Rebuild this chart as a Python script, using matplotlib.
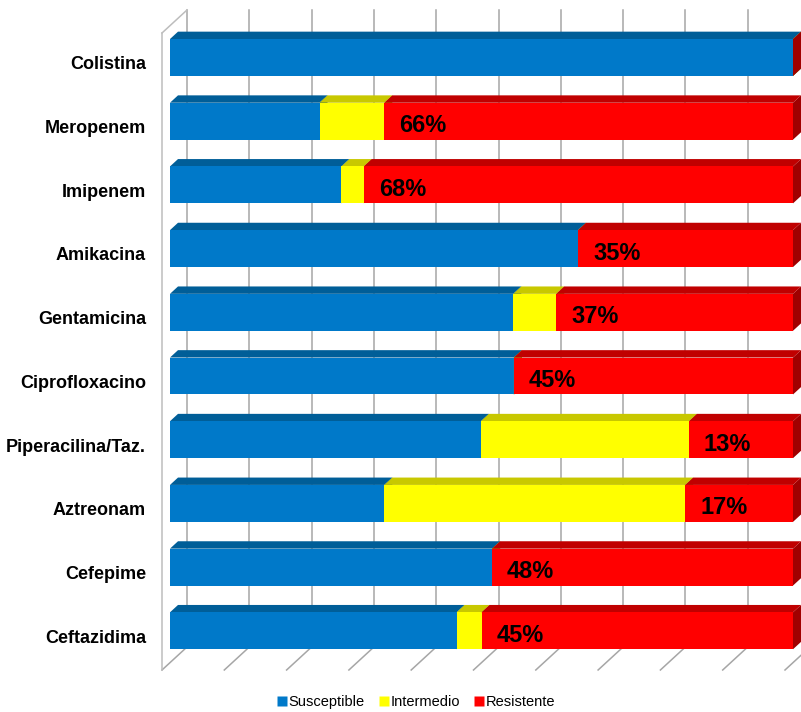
import matplotlib
matplotlib.use("Agg")
import matplotlib.pyplot as plt
from matplotlib.patches import Polygon
from matplotlib.lines import Line2D

categories = ['Colistina', 'Meropenem', 'Imipenem', 'Amikacina', 'Gentamicina',
              'Ciprofloxacino', 'Piperacilina/Taz.', 'Aztreonam', 'Cefepime', 'Ceftazidima']
susceptible = [100, 24.0, 27.5, 65.5, 55.1, 55.2, 49.9, 34.4, 51.7, 46.0]
intermedio = [0, 10.4, 3.6, 0, 6.9, 0, 33.4, 48.3, 0, 4.0]
resistente = [0, 65.6, 68.9, 34.5, 38.0, 44.8, 16.7, 17.3, 48.3, 50.0]
r_labels = ['', '66%', '68%', '35%', '37%', '45%', '13%', '17%', '48%', '45%']
series_names = ['Susceptible', 'Intermedio', 'Resistente']

front_colors = ['#0079C9', '#FFFF00', '#FF0000']
top_colors = ['#005E98', '#C8C800', '#C00000']
side_colors = ['#004F80', '#A8A800', '#A00000']

FONT = ['Liberation Sans', 'DejaVu Sans']
plt.rcParams['font.family'] = FONT

W, H = 801, 712
fig = plt.figure(figsize=(W / 100, H / 100), dpi=100)
ax = fig.add_axes([162 / W, (H - 670) / H, 623 / W, 637 / H])
ax.set_xlim(0, 100)
ax.set_ylim(-0.5, 9.5)
ax.axis('off')

# 3D depth offsets (data units): full depth of the plot box
DX = 25 / 6.23
DY = 23 / 63.7
D0, D1 = 0.32, 0.64
BH = 0.58

n = len(categories)
grid_c = '#A6A6A6'
# back wall gridlines and floor gridlines
for k in range(11):
    xv = k * 10
    ax.plot([xv + DX, xv + DX], [-0.5 + DY, 9.5 + DY], color=grid_c, lw=1.1,
            clip_on=False, zorder=1)
    ax.plot([xv, xv + DX], [-0.5, -0.5 + DY], color=grid_c, lw=1.1,
            clip_on=False, zorder=1)
# left wall
ax.plot([0, 0], [-0.5, 9.5], color='#BDBDBD', lw=1.1, clip_on=False, zorder=1)
ax.plot([0, DX], [9.5, 9.5 + DY], color='#BDBDBD', lw=1.1, clip_on=False, zorder=1)


def box(x0, x1, yc, j):
    bot, top = yc - BH / 2, yc + BH / 2
    fx0, fx1 = x0 + D0 * DX, x1 + D0 * DX
    bx0, bx1 = x0 + D1 * DX, x1 + D1 * DX
    fy = D0 * DY
    by = D1 * DY
    front = Polygon([(fx0, bot + fy), (fx1, bot + fy), (fx1, top + fy), (fx0, top + fy)],
                    closed=True, fc=front_colors[j], ec='none', clip_on=False, zorder=3)
    topf = Polygon([(fx0, top + fy), (fx1, top + fy), (bx1, top + by), (bx0, top + by)],
                   closed=True, fc=top_colors[j], ec='none', clip_on=False, zorder=3)
    side = Polygon([(fx1, bot + fy), (bx1, bot + by), (bx1, top + by), (fx1, top + fy)],
                   closed=True, fc=side_colors[j], ec='none', clip_on=False, zorder=3)
    ax.add_patch(side)
    ax.add_patch(topf)
    ax.add_patch(front)


for i, cat in enumerate(categories):
    yc = n - 1 - i
    vals = [susceptible[i], intermedio[i], resistente[i]]
    start = 0
    for j, v in enumerate(vals):
        box(start, start + v, yc, j)
        start += v
    ax.text(-2.57, yc, cat, ha='right', va='center', fontsize=13, fontweight='bold',
            family=FONT, color='#000000')
    if r_labels[i]:
        rs = susceptible[i] + intermedio[i]
        ax.text(rs + D0 * DX + 2.4, yc + D0 * DY - 0.07, r_labels[i], ha='left', va='center',
                fontsize=17, fontweight='bold', family=FONT, color='#000000', zorder=5)

handles = [Line2D([], [], marker='s', linestyle='none', markersize=6.5,
                  markerfacecolor=c, markeredgecolor='none') for c in front_colors]
fig.legend(handles, series_names, loc='center', bbox_to_anchor=(416 / W, (H - 702) / H),
           ncol=3, frameon=False, handletextpad=0.1, columnspacing=0.95,
           handlelength=0.7, prop={'family': FONT, 'size': 10.5})

fig.savefig('out.png', dpi=100)
